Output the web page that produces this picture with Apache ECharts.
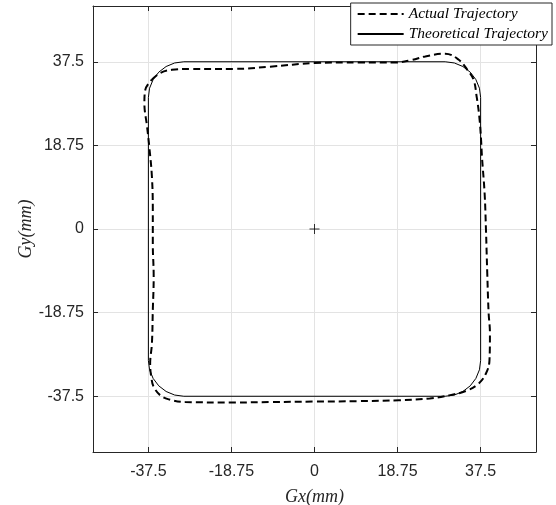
<!DOCTYPE html>
<html>
<head>
<meta charset="utf-8">
<script src="https://cdn.jsdelivr.net/npm/echarts@6/dist/echarts.min.js"></script>
<style>
  html, body { margin: 0; padding: 0; background: #fff; }
  #chart { width: 556px; height: 505px; }
</style>
</head>
<body>
<div id="chart"></div>
<script>
// tick positions (both axes)
const tickValues = [-37.5, -18.75, 0, 18.75, 37.5];

const actualX = [-36.7, -34.8, -32.2, -28, -18, -10, 0, 10, 18.5, 22, 25.0, 29.5, 32.5, 34.5, 35.9, 36.6, 37.2, 37.6, 37.8, 38.4, 38.7, 39.0, 39.3, 39.6, 39.5, 38.7, 37.0, 34.2, 30.4, 26, 19, 10, 0, -10, -18, -29.2, -32.9, -34.8, -36.3, -36.8, -37.1, -36.7, -36.5, -36.3, -36.5, -36.5, -36.7, -37.3, -37.8, -38.4, -38.2, -36.7];
const actualY = [33.5, 35.0, 35.7, 35.9, 35.9, 36.4, 37.2, 37.35, 37.35, 37.9, 38.7, 39.3, 38.0, 35.7, 33.5, 29.7, 25.2, 20, 16.2, 8, 0, -10, -18.75, -23.4, -29.4, -32.4, -34.7, -36.3, -37.3, -38.0, -38.4, -38.6, -38.7, -38.8, -38.9, -38.8, -38.2, -37.3, -35.4, -33.5, -30.2, -25.7, -18.2, -10.7, -3.2, 4.3, 11.7, 18.5, 23.0, 28.2, 31.2, 33.5];

// theoretical path: square with rounded corners (mm)
const theoX = [-29.5, 29.5, 31.57, 33.5, 35.16, 36.43, 37.23, 37.5, 37.5, 37.23, 36.43, 35.16, 33.5, 31.57, 29.5, -29.5, -31.57, -33.5, -35.16, -36.43, -37.23, -37.5, -37.5, -37.23, -36.43, -35.16, -33.5, -31.57, -29.5];
const theoY = [37.5, 37.5, 37.23, 36.43, 35.16, 33.5, 31.57, 29.5, -29.5, -31.57, -33.5, -35.16, -36.43, -37.23, -37.5, -37.5, -37.23, -36.43, -35.16, -33.5, -31.57, -29.5, 29.5, 31.57, 33.5, 35.16, 36.43, 37.23, 37.5];

const centerPoint = [[0, 0]];

const zip = (xs, ys) => xs.map((x, i) => [x, ys[i]]);

const axisColor = '#262626';
const gridColor = '#e3e3e3';
const labelFont = 'Liberation Sans, Arial, sans-serif';
const nameFont = 'Liberation Serif, Times New Roman, serif';

const chart = echarts.init(document.getElementById('chart'));

const tickLabel = (margin) => ({
  show: true, customValues: tickValues, color: axisColor, fontSize: 16, fontFamily: labelFont,
  margin: margin, formatter: v => String(v)
});

const mainAxis = (extra) => Object.assign({
  type: 'value',
  min: -50,
  max: 50,
  axisLine: { show: true, onZero: false, lineStyle: { color: axisColor, width: 1 } },
  axisTick: { show: true, inside: true, length: 5, customValues: tickValues, lineStyle: { color: axisColor } },
  splitLine: { show: true, lineStyle: { color: gridColor, width: 1 } },
  nameLocation: 'middle',
  nameMoveOverlap: false,
  nameTextStyle: { color: axisColor, fontSize: 18, fontStyle: 'italic', fontFamily: nameFont }
}, extra);

const boxAxis = (extra) => Object.assign({
  type: 'value',
  min: -50,
  max: 50,
  axisLine: { show: true, onZero: false, lineStyle: { color: axisColor, width: 1 } },
  axisTick: { show: true, inside: true, length: 5, customValues: tickValues, lineStyle: { color: axisColor } },
  axisLabel: { show: false },
  splitLine: { show: false }
}, extra);

chart.setOption({
  animation: false,
  backgroundColor: '#fff',
  grid: { left: 93, right: 20, top: 6, bottom: 53, outerBoundsMode: 'none' },
  legend: {
    orient: 'vertical',
    right: 4,
    top: 3,
    padding: [3, 4, 3, 6],
    itemGap: 4,
    itemWidth: 46,
    itemHeight: 15,
    backgroundColor: '#fff',
    borderColor: axisColor,
    borderWidth: 1,
    borderRadius: 0,
    itemStyle: { color: 'transparent', borderColor: 'transparent', borderWidth: 0 },
    data: ['Actual Trajectory', 'Theoretical Trajectory'],
    textStyle: { color: '#000', fontSize: 15.5, fontStyle: 'italic', fontFamily: nameFont }
  },
  xAxis: [
    mainAxis({ position: 'bottom', name: 'Gx(mm)', nameGap: 36, axisLabel: tickLabel(12) }),
    boxAxis({ position: 'top' })
  ],
  yAxis: [
    mainAxis({ position: 'left', name: 'Gy(mm)', nameGap: 58, axisLabel: tickLabel(9) }),
    boxAxis({ position: 'right' })
  ],
  series: [
    {
      name: 'Theoretical Trajectory',
      type: 'line',
      data: zip(theoX, theoY),
      symbol: 'none',
      smooth: false,
      lineStyle: { color: '#000', width: 1 },
      itemStyle: { color: '#000' },
      z: 3
    },
    {
      name: 'Actual Trajectory',
      type: 'line',
      data: zip(actualX, actualY),
      symbol: 'none',
      smooth: 0.4,
      lineStyle: { color: '#000', width: 2, type: [7, 4] },
      itemStyle: { color: '#000' },
      z: 4
    },
    {
      name: 'center',
      type: 'scatter',
      data: centerPoint,
      symbol: 'path://M0,-5L0,5M-5,0L5,0',
      symbolSize: 10,
      itemStyle: { color: 'none', borderColor: '#000', borderWidth: 1 },
      z: 5
    }
  ]
});
</script>
</body>
</html>
